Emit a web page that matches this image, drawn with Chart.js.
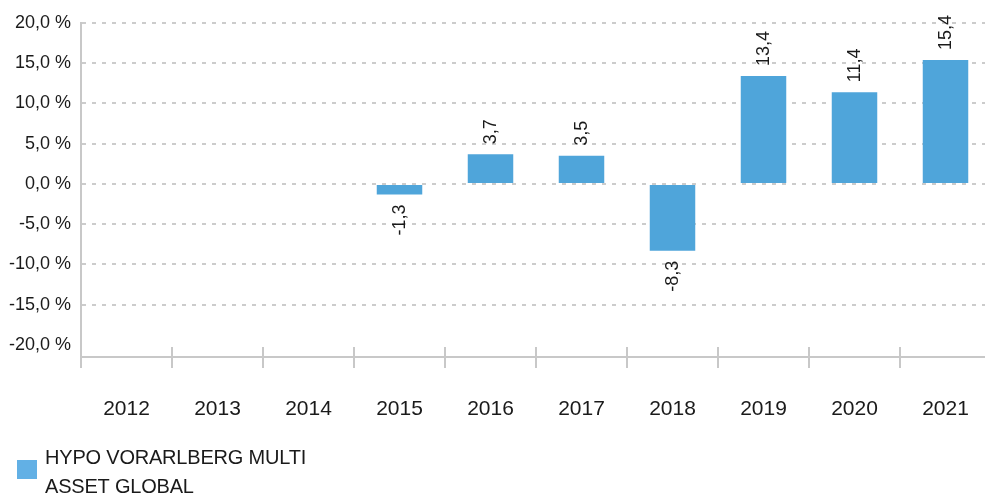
<!DOCTYPE html>
<html>
<head>
<meta charset="utf-8">
<script src="https://cdn.jsdelivr.net/npm/chart.js@4/dist/chart.umd.min.js"></script>
<style>
  html, body { margin: 0; padding: 0; background: #fff; overflow: hidden; }
  #wrap { width: 985px; height: 494px; overflow: hidden; }
  #chart { display: block; }
</style>
</head>
<body>
<div id="wrap"><canvas id="chart" width="995" height="494"></canvas></div>
<script>
// values
const years = ['2012', '2013', '2014', '2015', '2016', '2017', '2018', '2019', '2020', '2021'];
const returns = [null, null, null, -1.3, 3.7, 3.5, -8.3, 13.4, 11.4, 15.4];
const yTicks = [-20, -15, -10, -5, 0, 5, 10, 15, 20];
const seriesName = 'HYPO VORARLBERG MULTI ASSET GLOBAL';

const FONT = "'Liberation Sans', Arial, sans-serif";
const BAR = '#4FA5DA';
const AXIS = '#c8c8c8';

const fmt = v => v.toFixed(1).replace('.', ',');

// tick marks on the category axis, crossing the axis line
const xTickMarks = {
  id: 'xTickMarks',
  afterDraw(chart) {
    const x = chart.scales.x;
    const ctx = chart.ctx;
    const n = chart.data.labels.length;
    const step = x.width / n;
    ctx.save();
    ctx.strokeStyle = AXIS;
    ctx.lineWidth = 2;
    ctx.beginPath();
    for (let i = 0; i <= n; i++) {
      const px = Math.round(x.left + i * step);
      ctx.moveTo(px, x.top - 10);
      ctx.lineTo(px, x.top + 11);
    }
    ctx.stroke();
    ctx.restore();
  }
};

// rotated value labels
const valueLabels = {
  id: 'valueLabels',
  afterDatasetsDraw(chart) {
    const ctx = chart.ctx;
    const meta = chart.getDatasetMeta(0);
    const data = chart.data.datasets[0].data;
    ctx.save();
    ctx.font = '18px ' + FONT;
    ctx.fillStyle = '#1a1a1a';
    ctx.textBaseline = 'middle';
    meta.data.forEach((bar, i) => {
      const v = data[i];
      if (v === null || v === undefined) return;
      const y = v >= 0 ? bar.y - 10 : bar.y + 10;
      ctx.save();
      ctx.translate(bar.x + 1, y);
      ctx.rotate(-Math.PI / 2);
      ctx.textAlign = v >= 0 ? 'left' : 'right';
      ctx.fillText(fmt(v), 0, 0);
      ctx.restore();
    });
    ctx.restore();
  }
};

// legend at the bottom left, wrapped on two lines
const bottomLegend = {
  id: 'bottomLegend',
  afterDraw(chart) {
    const ctx = chart.ctx;
    const ds = chart.data.datasets[0];
    ctx.save();
    ctx.fillStyle = '#62B0E5';
    ctx.fillRect(17, 460, 20, 19);
    ctx.font = '20px ' + FONT;
    if ('letterSpacing' in ctx) ctx.letterSpacing = '-0.2px';
    ctx.fillStyle = '#1a1a1a';
    ctx.textBaseline = 'alphabetic';
    const words = ds.label.split(' ');
    const lines = [];
    let line = '';
    words.forEach(w => {
      const t = line ? line + ' ' + w : w;
      if (ctx.measureText(t).width > 290 && line) { lines.push(line); line = w; }
      else line = t;
    });
    if (line) lines.push(line);
    lines.forEach((l, i) => ctx.fillText(l, 45, 464 + i * 29));
    ctx.restore();
  }
};

new Chart(document.getElementById('chart'), {
  type: 'bar',
  data: {
    labels: years,
    datasets: [{
      label: seriesName,
      data: returns,
      backgroundColor: BAR,
      borderWidth: 0,
      barPercentage: 0.5,
      categoryPercentage: 1.0,
    }],
  },
  options: {
    responsive: false,
    devicePixelRatio: 1,
    animation: false,
    layout: { padding: { top: 23, right: 4, left: 0, bottom: 0 } },
    plugins: {
      legend: { display: false },
      tooltip: { enabled: false },
    },
    scales: {
      x: {
        grid: { display: true, drawOnChartArea: false, drawTicks: true, tickLength: 40, tickColor: 'transparent', color: 'transparent' },
        border: { display: true, color: AXIS, width: 2 },
        ticks: { color: '#1a1a1a', font: { family: FONT, size: 21 }, padding: 0, maxRotation: 0 },
        afterFit(scale) { scale.height = 137; },
      },
      y: {
        min: -21.5,
        max: 20,
        afterBuildTicks(scale) { scale.ticks = yTicks.map(v => ({ value: v })); },
        afterFit(scale) { scale.width = 81; },
        grid: {
          drawTicks: false,
          lineWidth: 2,
          color: ctx => (ctx.tick && ctx.tick.value === -20) ? 'transparent' : '#cccccc',
        },
        border: { display: true, color: AXIS, width: 2, dash: [4, 6] },
        ticks: {
          color: '#1a1a1a',
          font: { family: FONT, size: 18 },
          padding: 10,
          callback: v => fmt(v) + ' %',
        },
      },
    },
  },
  plugins: [xTickMarks, valueLabels, bottomLegend],
});
</script>
</body>
</html>
